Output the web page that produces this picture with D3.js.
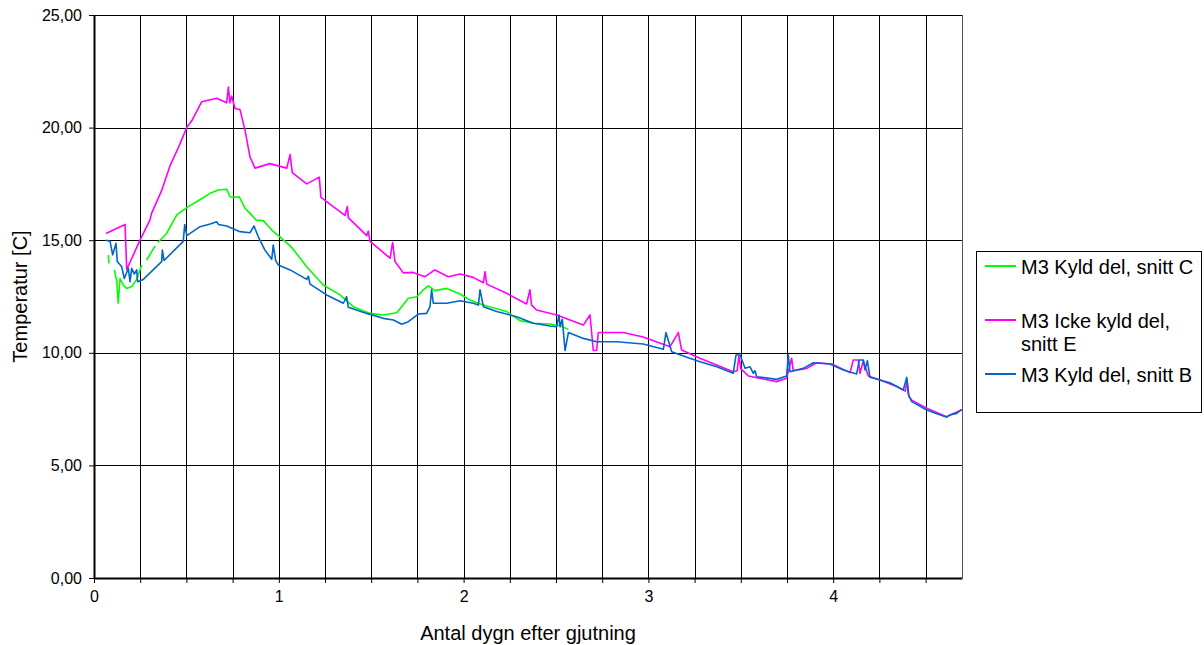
<!DOCTYPE html>
<html>
<head>
<meta charset="utf-8">
<script src="https://cdn.jsdelivr.net/npm/d3@7"></script>
<style>
  body { margin: 0; background: #fff; }
  svg { font-family: Arial, "Liberation Sans", sans-serif; }
</style>
</head>
<body>
<svg id="chart"></svg>
<script>
// values: [dygn, temperatur]
const snittC = [
  [0.077,14.34],[0.081,13.97],null,[0.110,13.68],[0.123,13.2],[0.131,12.2],[0.141,13.3],[0.159,13.0],
  [0.177,12.86],[0.204,12.94],[0.231,13.26],[0.258,13.9],null,[0.285,14.12],[0.330,14.74],null,[0.345,14.9],
  [0.393,15.3],[0.448,16.12],[0.510,16.49],[0.564,16.75],[0.628,17.08],[0.673,17.23],[0.718,17.26],
  [0.736,16.93],[0.754,16.9],[0.786,16.93],[0.817,16.42],[0.835,16.27],[0.877,15.9],[0.916,15.87],
  [0.962,15.45],[1.006,15.15],[1.070,14.68],[1.151,13.82],[1.241,13.01],[1.331,12.57],[1.403,12.05],
  [1.494,11.75],[1.565,11.68],[1.638,11.78],[1.665,12.05],[1.701,12.42],[1.746,12.49],[1.782,12.79],
  [1.809,12.97],[1.845,12.76],[1.909,12.86],[1.981,12.61],[2.035,12.34],[2.080,12.2],[2.125,12.08],
  [2.233,11.83],[2.305,11.43],[2.377,11.31],[2.468,11.28],[2.522,11.2],[2.567,11.04]
];

const snittE = [
  [0.065,15.3],[0.168,15.7],[0.177,13.7],[0.249,15.0],[0.303,15.9],[0.312,16.2],[0.366,17.2],[0.411,18.3],
  [0.456,19.1],[0.502,20.0],[0.529,20.3],[0.583,21.15],[0.664,21.3],[0.718,21.1],[0.727,21.8],[0.736,21.1],
  [0.745,21.4],[0.763,20.85],[0.790,20.8],[0.817,19.9],[0.844,18.7],[0.871,18.2],[0.952,18.4],[1.043,18.2],
  [1.061,18.8],[1.073,18.0],[1.151,17.5],[1.219,17.8],[1.228,16.9],[1.358,16.1],[1.371,16.5],[1.376,16.0],
  [1.476,15.2],[1.484,15.4],[1.494,14.95],[1.602,14.2],[1.616,14.9],[1.629,14.05],[1.674,13.55],[1.728,13.57],
  [1.791,13.38],[1.845,13.68],[1.917,13.38],[1.981,13.5],[2.052,13.35],[2.107,13.11],[2.116,13.6],[2.125,13.05],
  [2.233,12.64],[2.341,12.17],[2.359,12.8],[2.368,12.12],[2.395,11.9],[2.504,11.68],[2.648,11.23],[2.684,11.68],
  [2.702,10.1],[2.720,10.1],[2.729,10.9],[2.864,10.9],[2.972,10.7],[3.117,10.27],[3.162,10.9],[3.180,10.12],
  [3.279,9.76],[3.459,9.16],[3.480,9.2],[3.490,9.85],[3.500,9.3],[3.541,8.97],[3.694,8.72],[3.748,8.87],
  [3.775,9.76],[3.784,9.2],[3.857,9.31],[3.911,9.56],[3.992,9.5],[4.091,9.12],[4.109,9.68],[4.136,9.68],
  [4.145,9.09],[4.163,9.65],[4.190,8.97],[4.253,8.79],[4.344,8.5],[4.390,8.3],[4.400,8.8],[4.410,8.05],
  [4.425,7.9],[4.506,7.54],[4.614,7.16],[4.632,7.24],[4.695,7.46]
];

const snittB = [
  [0.063,15.0],[0.087,14.95],[0.101,14.35],[0.119,14.86],[0.126,14.05],[0.150,13.82],[0.164,13.3],[0.186,13.75],
  [0.195,13.16],[0.204,13.75],[0.218,13.5],[0.231,13.68],[0.236,13.16],[0.267,13.26],[0.366,14.05],[0.370,14.56],
  [0.379,14.1],[0.483,14.95],[0.491,15.7],[0.502,15.2],[0.574,15.6],[0.628,15.72],[0.664,15.82],[0.673,15.7],
  [0.718,15.63],[0.790,15.38],[0.844,15.33],[0.866,15.63],[0.889,15.15],[0.925,14.56],[0.962,14.15],[0.970,14.79],
  [0.983,14.1],[0.997,13.9],[1.061,13.68],[1.151,13.26],[1.160,13.4],[1.169,13.05],[1.259,12.57],[1.349,12.2],
  [1.367,12.49],[1.376,12.02],[1.476,11.75],[1.565,11.53],[1.620,11.46],[1.665,11.27],[1.701,11.38],[1.755,11.72],
  [1.800,11.75],[1.818,12.05],[1.827,12.8],[1.836,12.2],[1.909,12.2],[1.981,12.31],[2.052,12.2],[2.080,12.12],
  [2.089,12.8],[2.107,12.05],[2.179,11.83],[2.287,11.6],[2.377,11.31],[2.468,11.19],[2.504,11.16],[2.516,11.68],
  [2.522,11.16],[2.534,11.49],[2.549,10.1],[2.567,10.9],[2.648,10.64],[2.720,10.49],[2.828,10.49],[2.972,10.39],
  [3.081,10.16],[3.095,10.9],[3.126,10.05],[3.189,9.86],[3.279,9.6],[3.370,9.38],[3.459,9.09],[3.474,9.9],
  [3.496,9.9],[3.523,9.31],[3.550,9.38],[3.568,9.09],[3.577,9.2],[3.586,8.94],[3.694,8.82],[3.748,8.97],
  [3.757,9.9],[3.766,9.16],[3.838,9.31],[3.892,9.56],[3.983,9.5],[4.055,9.24],[4.127,9.06],[4.141,9.68],
  [4.163,9.68],[4.172,9.24],[4.185,9.65],[4.199,8.91],[4.307,8.67],[4.379,8.35],[4.398,8.91],[4.406,8.17],
  [4.425,7.83],[4.506,7.46],[4.614,7.14],[4.632,7.24],[4.668,7.31],[4.695,7.49]
];

const legendLabels = [['M3 Kyld del, snitt C'], ['M3 Icke kyld del,', 'snitt E'], ['M3 Kyld del, snitt B']];
const seriesColors = ['#00ff00', '#ff00ff', '#0066cc'];
const xTicks = [0, 0.25, 0.5, 0.75, 1, 1.25, 1.5, 1.75, 2, 2.25, 2.5, 2.75, 3, 3.25, 3.5, 3.75, 4, 4.25, 4.5];
const yTicks = [0, 5, 10, 15, 20, 25];
const xMax = 4.697;

const W = 1204, H = 645;
const margin = {top: 15, right: 242, bottom: 67, left: 94};
const width = W - margin.left - margin.right;
const height = H - margin.top - margin.bottom;

const svg = d3.select('#chart')
  .attr('width', W)
  .attr('height', H);

const g = svg.append('g')
  .attr('transform', 'translate(' + margin.left + ',' + margin.top + ')');

const x = d3.scaleLinear().domain([0, xMax]).range([0, width]);
const y = d3.scaleLinear().domain([0, 25]).range([height, 0]);

// swedish number format, 25,00
const sv = d3.formatLocale({decimal: ',', thousands: ' ', grouping: [3], currency: ['', ' kr']});
const fmtY = sv.format('.2f');

// grid
g.append('g')
  .selectAll('line')
  .data(xTicks)
  .join('line')
    .attr('x1', d => Math.round(x(d)) + 0.5)
    .attr('x2', d => Math.round(x(d)) + 0.5)
    .attr('y1', 0)
    .attr('y2', height)
    .attr('stroke', '#000')
    .attr('stroke-width', 1);

g.append('g')
  .selectAll('line')
  .data(yTicks)
  .join('line')
    .attr('x1', 0)
    .attr('x2', width)
    .attr('y1', d => Math.round(y(d)) + 0.5)
    .attr('y2', d => Math.round(y(d)) + 0.5)
    .attr('stroke', '#000')
    .attr('stroke-width', 1);

// right border
g.append('line')
  .attr('x1', width + 0.5).attr('x2', width + 0.5)
  .attr('y1', 0).attr('y2', height)
  .attr('stroke', '#555');

// axes
const xAxis = g.append('g')
  .attr('transform', 'translate(0,' + height + ')')
  .call(d3.axisBottom(x)
    .tickValues(xTicks)
    .tickSize(5)
    .tickSizeOuter(0)
    .tickPadding(8)
    .tickFormat(d => Number.isInteger(d) ? d : ''));

const yAxis = g.append('g')
  .call(d3.axisLeft(y)
    .tickValues(yTicks)
    .tickSize(5)
    .tickSizeOuter(0)
    .tickPadding(7)
    .tickFormat(fmtY));

[xAxis, yAxis].forEach(a => {
  a.select('.domain').attr('stroke', '#000').attr('stroke-width', 2);
  a.selectAll('.tick line').attr('stroke', '#000');
  a.selectAll('.tick text').attr('font-size', '16px').attr('fill', '#000')
    .attr('font-family', 'Arial, "Liberation Sans", sans-serif');
});

// lines
const line = d3.line()
  .defined(d => d !== null)
  .x(d => x(d[0]))
  .y(d => y(d[1]));

[snittC, snittE, snittB].forEach((s, i) => {
  g.append('path')
    .datum(s)
    .attr('fill', 'none')
    .attr('stroke', seriesColors[i])
    .attr('stroke-width', 1.6)
    .attr('stroke-linejoin', 'round')
    .attr('d', line);
});

// axis titles
svg.append('text')
  .attr('x', margin.left + width / 2)
  .attr('y', 640)
  .attr('text-anchor', 'middle')
  .attr('font-size', '20px')
  .text('Antal dygn efter gjutning');

svg.append('text')
  .attr('transform', 'translate(27,' + (margin.top + height / 2) + ') rotate(-90)')
  .attr('text-anchor', 'middle')
  .attr('font-size', '20px')
  .text('Temperatur [C]');

// legend
const legend = svg.append('g').attr('transform', 'translate(976,251)');
legend.append('rect')
  .attr('x', 0.5).attr('y', 0.5)
  .attr('width', 225).attr('height', 161)
  .attr('fill', '#fff')
  .attr('stroke', '#000');

const rowY = [15, 69, 123];
legendLabels.forEach((lines, i) => {
  legend.append('line')
    .attr('x1', 9).attr('x2', 40)
    .attr('y1', rowY[i]).attr('y2', rowY[i])
    .attr('stroke', seriesColors[i])
    .attr('stroke-width', 2);
  lines.forEach((t, j) => {
    legend.append('text')
      .attr('x', 45)
      .attr('y', rowY[i] + 8 + j * 23)
      .attr('font-size', '20px')
      .text(t);
  });
});
</script>
</body>
</html>
